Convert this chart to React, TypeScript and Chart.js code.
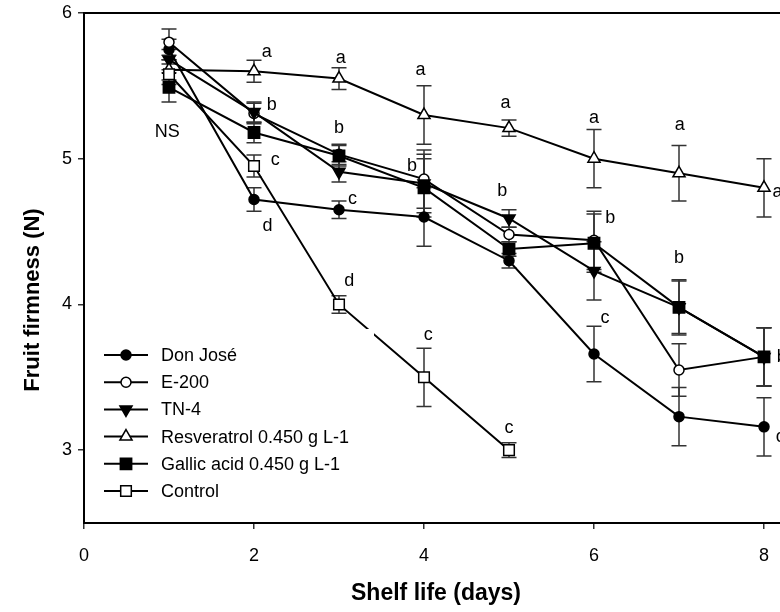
import React, { useEffect, useRef } from 'react';
import { Chart, registerables } from 'chart.js';

Chart.register(...registerables);

// ---------- data ----------
const DAYS = [1, 2, 3, 4, 5, 6, 7, 8];

const DON_JOSE = [5.75, 4.72, 4.65, 4.6, 4.3, 3.66, 3.23, 3.16];
const DON_JOSE_ERR = [0.07, 0.08, 0.06, 0.2, 0.05, 0.19, 0.2, 0.2];
const E200 = [5.8, 5.31, 5.03, 4.86, 4.48, 4.44, 3.55, 3.64];
const E200_ERR = [0.09, 0.07, 0.07, 0.2, 0.05, 0.2, 0.18, 0.2];
const TN4 = [5.68, 5.32, 4.91, 4.83, 4.59, 4.23, 3.98, 3.64];
const TN4_ERR = [0.07, 0.07, 0.07, 0.2, 0.06, 0.2, 0.18, 0.2];
const RESVERATROL = [5.61, 5.6, 5.55, 5.3, 5.21, 5.0, 4.9, 4.8];
const RESVERATROL_ERR = [0.07, 0.075, 0.075, 0.2, 0.055, 0.2, 0.19, 0.2];
const GALLIC = [5.49, 5.18, 5.02, 4.8, 4.38, 4.42, 3.98, 3.64];
const GALLIC_ERR = [0.1, 0.07, 0.07, 0.2, 0.05, 0.2, 0.19, 0.2];
const CONTROL = [5.58, 4.95, 4.0, 3.5, 3.0];
const CONTROL_ERR = [0.07, 0.075, 0.06, 0.2, 0.05];

const X_TICKS = [0, 2, 4, 6, 8];
const Y_TICKS = [3, 4, 5, 6];

const ANN_X = [0.98, 2.15, 2.21, 2.25, 2.16, 3.02, 3.0, 3.16, 3.12, 3.96, 3.86, 4.05, 4.96, 4.92, 5.0, 6.0, 6.19, 6.13, 7.01, 7.0, 8.16, 8.21, 8.19];
const ANN_Y = [5.18, 5.73, 5.37, 4.99, 4.54, 5.69, 5.21, 4.72, 4.16, 5.61, 4.95, 3.79, 5.38, 4.78, 3.15, 5.28, 4.59, 3.91, 5.23, 4.32, 4.77, 3.64, 3.09];
const ANN_TEXT = ['NS', 'a', 'b', 'c', 'd', 'a', 'b', 'c', 'd', 'a', 'b', 'c', 'a', 'b', 'c', 'a', 'b', 'c', 'a', 'b', 'a', 'b', 'c'];

const SERIES = [
  { label: 'Don José', values: DON_JOSE, err: DON_JOSE_ERR, style: 'circle', filled: true },
  { label: 'E-200', values: E200, err: E200_ERR, style: 'circle', filled: false },
  { label: 'TN-4', values: TN4, err: TN4_ERR, style: 'triangleDown', filled: true },
  { label: 'Resveratrol 0.450 g L-1', values: RESVERATROL, err: RESVERATROL_ERR, style: 'triangle', filled: false },
  { label: 'Gallic acid 0.450 g L-1', values: GALLIC, err: GALLIC_ERR, style: 'rect', filled: true },
  { label: 'Control', values: CONTROL, err: CONTROL_ERR, style: 'rect', filled: false },
];

const FONT = '"Liberation Sans", Arial, sans-serif';
const W = 860;
const H = 612;

function markerProps(style: string, filled: boolean) {
  let pointStyle: any = 'circle';
  let radius = 5;
  let rotation = 0;
  if (style === 'triangle') { pointStyle = 'triangle'; radius = 7; }
  if (style === 'triangleDown') { pointStyle = 'triangle'; radius = 7; rotation = 180; }
  if (style === 'rect') { pointStyle = 'rect'; radius = filled ? 8 : 7.5; }
  return { pointStyle, radius, rotation, bg: filled ? '#000' : '#fff' };
}

function drawMarker(ctx: CanvasRenderingContext2D, style: string, filled: boolean, x: number, y: number) {
  const m = markerProps(style, filled);
  ctx.save();
  ctx.beginPath();
  if (style === 'circle') {
    ctx.arc(x, y, m.radius, 0, Math.PI * 2);
  } else if (style === 'rect') {
    const s = Math.SQRT1_2 * m.radius;
    ctx.rect(x - s, y - s, 2 * s, 2 * s);
  } else {
    const r = m.radius;
    const dir = style === 'triangleDown' ? -1 : 1;
    ctx.moveTo(x, y - dir * r);
    ctx.lineTo(x + r * Math.sin(Math.PI / 3), y + dir * r * 0.5);
    ctx.lineTo(x - r * Math.sin(Math.PI / 3), y + dir * r * 0.5);
    ctx.closePath();
  }
  ctx.fillStyle = m.bg;
  ctx.fill();
  ctx.lineWidth = 1.5;
  ctx.strokeStyle = '#000';
  ctx.stroke();
  ctx.restore();
}

const frameAndBars = {
  id: 'frameAndBars',
  beforeDatasetsDraw(chart: any) {
    const ctx = chart.ctx as CanvasRenderingContext2D;
    const ys = chart.scales.y;
    ctx.save();
    ctx.strokeStyle = '#333';
    ctx.lineWidth = 1.5;
    SERIES.forEach((s, i) => {
      const meta = chart.getDatasetMeta(i);
      meta.data.forEach((pt: any, j: number) => {
        const v = s.values[j];
        const e = s.err[j];
        const x = pt.x;
        const y1 = ys.getPixelForValue(v + e);
        const y2 = ys.getPixelForValue(v - e);
        ctx.beginPath();
        ctx.moveTo(x, y1);
        ctx.lineTo(x, y2);
        ctx.moveTo(x - 7.5, y1);
        ctx.lineTo(x + 7.5, y1);
        ctx.moveTo(x - 7.5, y2);
        ctx.lineTo(x + 7.5, y2);
        ctx.stroke();
      });
    });
    ctx.restore();
  },
  afterDatasetsDraw(chart: any) {
    const ctx = chart.ctx as CanvasRenderingContext2D;
    const ca = chart.chartArea;
    const xs = chart.scales.x;
    const ys = chart.scales.y;
    ctx.save();
    // legend box
    const lx = ca.left + 6;
    const ly = 329;
    ctx.fillStyle = '#fff';
    ctx.fillRect(lx, ly, 374 - lx, 188);
    ctx.font = `18px ${FONT}`;
    ctx.textBaseline = 'middle';
    ctx.textAlign = 'left';
    SERIES.forEach((s, i) => {
      const y = 355 + i * 27.2;
      ctx.strokeStyle = '#000';
      ctx.lineWidth = 2;
      ctx.beginPath();
      ctx.moveTo(ca.left + 20, y);
      ctx.lineTo(ca.left + 64, y);
      ctx.stroke();
      drawMarker(ctx, s.style, s.filled, ca.left + 42, y);
      ctx.fillStyle = '#000';
      ctx.fillText(s.label, ca.left + 77, y + 1);
    });
    // significance letters
    ctx.textAlign = 'center';
    ctx.fillStyle = '#000';
    ANN_TEXT.forEach((t, i) => {
      ctx.fillText(t, xs.getPixelForValue(ANN_X[i]), ys.getPixelForValue(ANN_Y[i]));
    });
    // frame
    ctx.strokeStyle = '#000';
    ctx.lineWidth = 2;
    ctx.strokeRect(ca.left, ca.top, ca.right - ca.left, ca.bottom - ca.top);
    // axis titles
    ctx.font = `bold 23px ${FONT}`;
    ctx.textAlign = 'center';
    ctx.fillText('Shelf life (days)', 436, 594);
    ctx.font = `bold 22px ${FONT}`;
    ctx.translate(33, 300);
    ctx.rotate(-Math.PI / 2);
    ctx.fillText('Fruit firmness (N)', 0, 0);
    ctx.restore();
  },
};

export default function App() {
  const ref = useRef<HTMLCanvasElement | null>(null);
  useEffect(() => {
    if (!ref.current) return;
    const datasets = SERIES.map((s, i) => {
      const m = markerProps(s.style, s.filled);
      return {
        label: s.label,
        data: s.values.map((v, j) => ({ x: DAYS[j], y: v })),
        order: SERIES.length - i,
        borderColor: '#000',
        borderWidth: 2,
        backgroundColor: m.bg,
        pointBackgroundColor: m.bg,
        pointBorderColor: '#000',
        pointBorderWidth: 1.5,
        pointStyle: m.pointStyle,
        pointRadius: m.radius,
        pointRotation: m.rotation,
        tension: 0,
        fill: false,
      };
    });
    const chart = new Chart(ref.current, {
      type: 'line',
      data: { datasets },
      plugins: [frameAndBars],
      options: {
        animation: false,
        responsive: false,
        devicePixelRatio: 1,
        layout: { padding: { left: 0, top: 13, right: W - 849, bottom: 0 } },
        plugins: { legend: { display: false }, tooltip: { enabled: false } },
        scales: {
          x: {
            type: 'linear',
            min: 0,
            max: 9,
            afterBuildTicks: (axis: any) => {
              axis.ticks = X_TICKS.map((v) => ({ value: v }));
            },
            afterFit: (axis: any) => {
              axis.height = 89;
              axis.paddingLeft = 0;
              axis.paddingRight = 0;
            },
            grid: { drawOnChartArea: false, drawTicks: true, tickLength: 6, color: '#333', lineWidth: 1.5 },
            border: { display: false },
            ticks: { color: '#000', font: { family: FONT, size: 18 }, padding: 16, maxRotation: 0 },
          },
          y: {
            type: 'linear',
            min: 2.5,
            max: 6,
            afterBuildTicks: (axis: any) => {
              axis.ticks = Y_TICKS.map((v) => ({ value: v }));
            },
            afterFit: (axis: any) => {
              axis.width = 84;
              axis.paddingTop = 0;
              axis.paddingBottom = 0;
            },
            grid: { drawOnChartArea: false, drawTicks: true, tickLength: 6, color: '#333', lineWidth: 1.5 },
            border: { display: false },
            ticks: { color: '#000', font: { family: FONT, size: 18 }, padding: 6 },
          },
        },
      },
    });
    return () => chart.destroy();
  }, []);
  return (
    <div style={{ position: 'fixed', left: 0, top: 0, width: 780, height: 612, overflow: 'hidden', background: '#fff' }}>
      <canvas ref={ref} width={W} height={H} style={{ position: 'absolute', left: 0, top: 0, width: W, height: H }} />
    </div>
  );
}
